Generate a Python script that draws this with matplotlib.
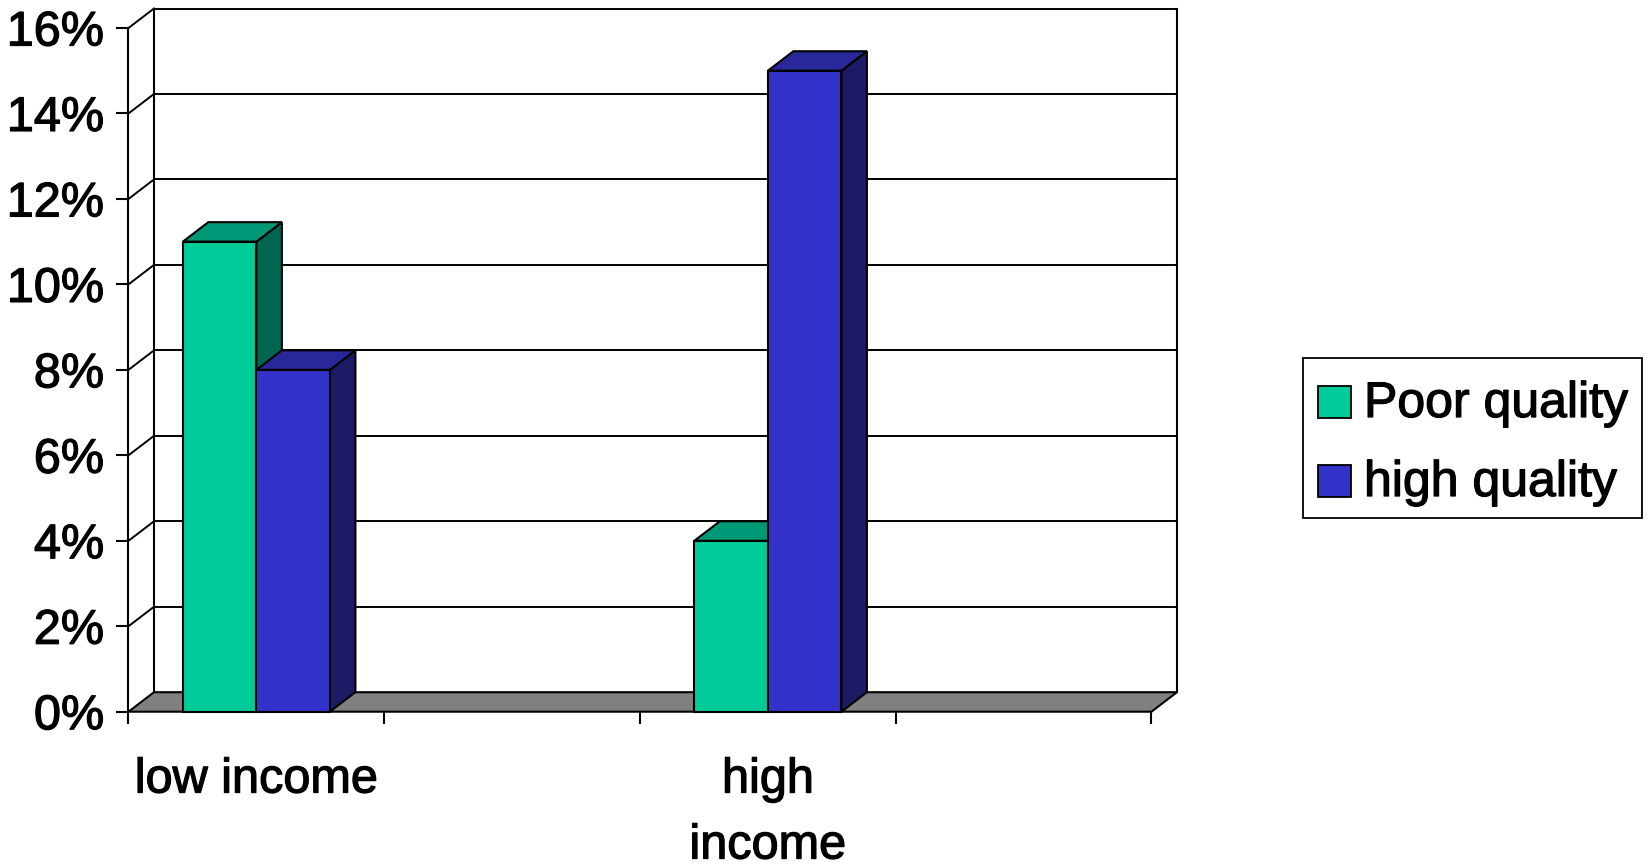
import numpy as np
import matplotlib.pyplot as plt
import matplotlib.patheffects as pe
from matplotlib.patches import Polygon, Rectangle

plt.rcParams['font.family'] = ['Liberation Sans', 'DejaVu Sans']

# Share of households by income group and housing quality (%)
categories = ['low income', '', 'high\nincome', '']
series_names = ['Poor quality', 'high quality']
poor_quality = [11, np.nan, 4, np.nan]
high_quality = [8, np.nan, 15, np.nan]
y_ticks = [0, 2, 4, 6, 8, 10, 12, 14, 16]
y_tick_labels = ['0%', '2%', '4%', '6%', '8%', '10%', '12%', '14%', '16%']

front_colors = ['#00CC99', '#3333CC']
top_colors = ['#009977', '#28289A']
side_colors = ['#006650', '#1C1C66']

# slightly heavier glyphs
heavy = [pe.withStroke(linewidth=0.9, foreground='black')]

W, H = 1649, 868
fig = plt.figure(figsize=(W / 100, H / 100), dpi=100)

# front plane of the 3-D box, in figure pixels
left, right, bottom, top = 128.5, 1151.5, 711.7, 28.0
ax = fig.add_axes([left / W, (H - bottom) / H, (right - left) / W, (bottom - top) / H])

n = len(categories)
ymax = y_ticks[-1]
ax.set_xlim(0, n)
ax.set_ylim(0, ymax)

# depth offset of the box (back wall vs front plane) in data units
dx = 25.5 / (right - left) * n
dy = 19.5 / (bottom - top) * ymax

lw = 1.5

# floor
ax.add_patch(Polygon([(0, 0), (n, 0), (n + dx, dy), (dx, dy)], closed=True,
                     fc='#808080', ec='black', lw=lw, clip_on=False, zorder=1))

# back wall gridlines and side wall diagonals
for v in y_ticks[1:]:
    ax.plot([dx, n + dx], [v + dy, v + dy], color='black', lw=1.4, clip_on=False, zorder=0.5)
    ax.plot([0, dx], [v, v + dy], color='black', lw=1.4, clip_on=False, zorder=0.5)
ax.plot([dx, dx], [dy, ymax + dy], color='black', lw=lw, clip_on=False, zorder=0.5)
ax.plot([n + dx, n + dx], [dy, ymax + dy], color='black', lw=lw, clip_on=False, zorder=0.5)

# 3-D bars, drawn left to right so each front face covers the previous side face
width = 0.2875
offsets = [-width / 2, width / 2]
centers = np.arange(n) + 0.5
z = 2
for i in range(n):
    for s, vals in enumerate([poor_quality, high_quality]):
        v = vals[i]
        if np.isnan(v):
            continue
        x0 = centers[i] + offsets[s] - width / 2
        x1 = x0 + width
        ax.add_patch(Polygon([(x1, 0), (x1 + dx, dy), (x1 + dx, v + dy), (x1, v)], closed=True,
                             fc=side_colors[s], ec='black', lw=lw, clip_on=False, zorder=z))
        ax.add_patch(Polygon([(x0, v), (x1, v), (x1 + dx, v + dy), (x0 + dx, v + dy)], closed=True,
                             fc=top_colors[s], ec='black', lw=lw, clip_on=False, zorder=z))
        ax.bar(x0, v, width, align='edge', color=front_colors[s], edgecolor='black',
               linewidth=lw, zorder=z + 0.5, clip_on=False)
        z += 1

for side in ['top', 'right', 'bottom']:
    ax.spines[side].set_visible(False)
ax.spines['left'].set_linewidth(lw)
ax.spines['left'].set_zorder(0.6)

ax.set_yticks(y_ticks, y_tick_labels)
ax.tick_params(axis='y', length=9, width=lw, labelsize=35, pad=8.5)

ax.set_xticks(np.arange(n + 1))
ax.tick_params(axis='x', which='major', length=8.6, width=lw, labelbottom=False)
ax.set_xticks(centers, categories, minor=True)
ax.tick_params(axis='x', which='minor', length=0, labelsize=35, pad=33)
for t in ax.get_xticklabels(minor=True):
    t.set_linespacing(1.6)
    t.set_path_effects(heavy)
for t in ax.get_yticklabels():
    t.set_path_effects(heavy)


# legend box
def fx(px):
    return px / W


def fy(py):
    return 1 - py / H


fig.add_artist(Rectangle((fx(1303.3), fy(517.5)), (1642.3 - 1303.3) / W, (517.5 - 358.3) / H,
                         transform=fig.transFigure, fc='white', ec='black', lw=1.3))
for s, (name, top_px) in enumerate(zip(series_names, [386.0, 465.0])):
    fig.add_artist(Rectangle((fx(1318.3), fy(top_px + 31.7)), 32.7 / W, 31.7 / H,
                             transform=fig.transFigure, fc=front_colors[s], ec='black', lw=1.3))
    fig.text(fx(1364), fy(top_px + 31), name, fontsize=36, va='baseline', ha='left',
             path_effects=heavy)

fig.savefig('out.png', dpi=100)
